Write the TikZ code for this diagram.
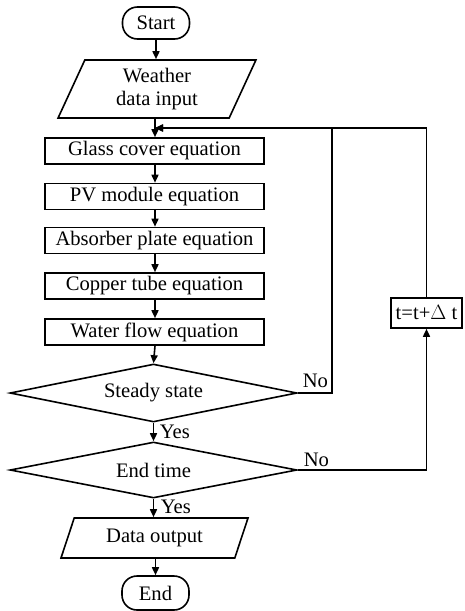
\documentclass[tikz,border=0pt]{standalone}
\usepackage{fontspec}
\setmainfont{Liberation Serif}
\usetikzlibrary{shapes.geometric,arrows.meta}
\begin{document}
\begin{tikzpicture}[x=1pt,y=-1pt,
  font=\fontsize{20.6}{23}\selectfont,
  every node/.style={line width=1.6pt, inner sep=0pt},
  arr/.style={line width=1.6pt, -{Triangle[length=8pt,width=7pt]}},
  ln/.style={line width=1.6pt},
  term/.style={draw, rectangle, rounded corners=15pt, minimum width=67pt, minimum height=32pt},
  io/.style={draw, trapezium, trapezium stretches=true, minimum height=#1},
  proc/.style={draw, rectangle, minimum width=219pt, minimum height=26pt},
  dec/.style={draw, diamond, aspect=5, minimum width=287pt, minimum height=#1},
  lbl/.style={anchor=base west}]
\useasboundingbox (0,0) rectangle (464,611);
\node[term] (start) at (156,23) {Start};
\node[io=58pt, trapezium left angle=70, trapezium right angle=110, minimum width=198pt, align=center] (input) at (157,89) {Weather\\data input};
\node[proc] (glass) at (154.5,151) {Glass cover equation};
\node[proc] (pv) at (154.5,196.5) {PV module equation};
\node[proc] (abs) at (154.5,240.5) {Absorber plate equation};
\node[proc] (cop) at (154.5,286) {Copper tube equation};
\node[proc] (wat) at (154.5,332) {Water flow equation};
\node[dec=58pt] (steady) at (153.5,393) {Steady state};
\node[dec=56pt] (endt) at (153.5,470) {End time};
\node[io=40pt, trapezium left angle=66, trapezium right angle=114, minimum width=187pt] (out) at (154.5,538) {Data output};
\node[term, minimum height=34pt] (end) at (155.5,593) {End};
\node[draw, rectangle, minimum width=71pt, minimum height=30pt] (tb) at (426.5,313) {t=t+$\Delta$ t};
\coordinate (merge) at (155,128);
\coordinate (loopx) at (332,0);
\draw[arr] (start.south) -- (start.south |- input.north);
\draw[ln] (input.south -| merge) -- (merge);
\draw[arr] (merge) -- (merge |- glass.north);
\draw[arr] (glass.south -| merge) -- (merge |- pv.north);
\draw[arr] (pv.south -| merge) -- (merge |- abs.north);
\draw[arr] (abs.south -| merge) -- (merge |- cop.north);
\draw[arr] (cop.south -| merge) -- (merge |- wat.north);
\draw[arr] (wat.south -| merge) -- (steady.north);
\draw[arr] (steady.south) -- (endt.north);
\draw[arr] (endt.south) -- (endt.south |- out.north);
\draw[arr] (out.south -| end.north) -- (end.north);
\draw[arr] (steady.east) -- (steady.east -| loopx) |- (merge);
\draw[arr] (endt.east) -| (tb.south);
\draw[arr] (tb.north) |- (merge);
\node[lbl] (no1) at (302,387) {No};
\node[lbl] (no2) at (303,466) {No};
\node[lbl] (yes1) at (159,438) {Yes};
\node[lbl] (yes2) at (160,513) {Yes};
\end{tikzpicture}
\end{document}
